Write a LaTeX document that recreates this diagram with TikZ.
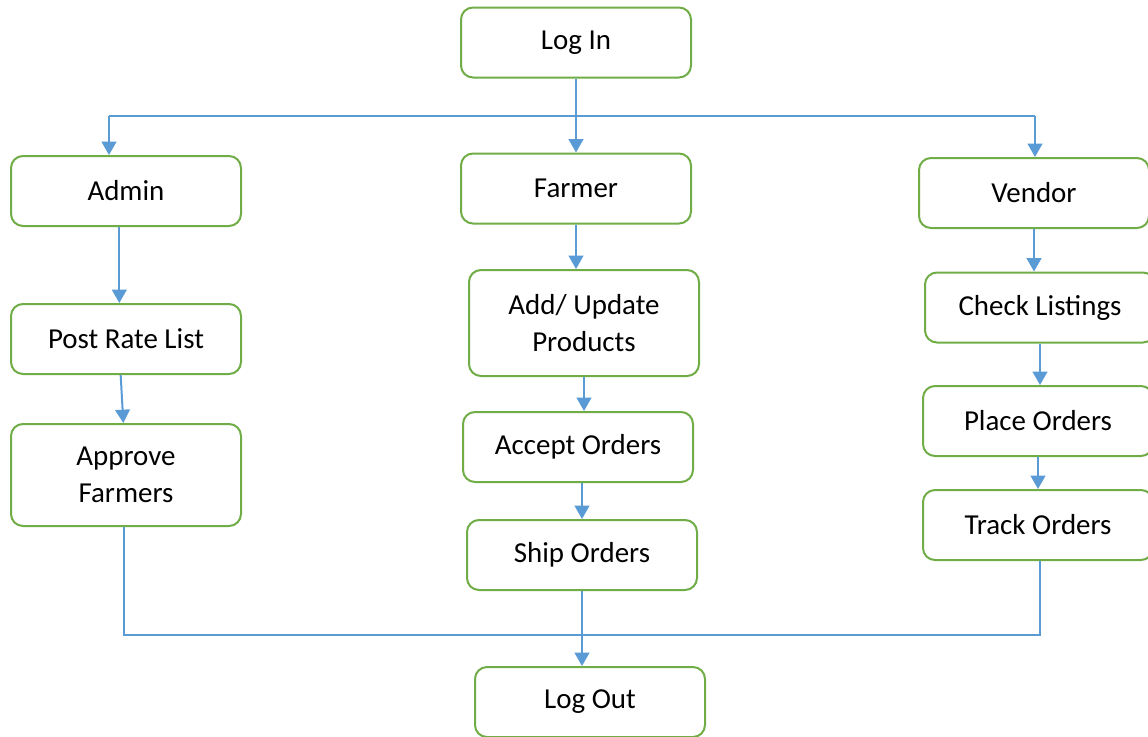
\documentclass[tikz,border=0pt]{standalone}
\usepackage{fontspec}
\setmainfont{Carlito}
\usetikzlibrary{arrows.meta}

\definecolor{boxgreen}{HTML}{70AD47}
\definecolor{lineblue}{HTML}{5B9BD5}

\begin{document}
\begin{tikzpicture}[x=0.75pt, y=-0.75pt,
    box/.style={draw=boxgreen, line width=1.5pt, rounded corners=9pt, fill=white,
      minimum width=172.5pt, minimum height=52.5pt, inner sep=0pt, align=center,
      font=\fontsize{21.7}{27.5}\selectfont},
    link/.style={draw=lineblue, line width=1.5pt},
    arr/.style={link, -{Triangle[width=11pt,length=10pt]}}]
  \useasboundingbox (0,0) rectangle (1148,736);
  \clip (0,0) rectangle (1148,736);

  % Top
  \node[box] (login) at (576,42.5) {Log In};

  % Roles
  \node[box] (admin) at (126,191) {Admin};
  \node[box] (farmer) at (576,188.5) {Farmer};
  \node[box] (vendor) at (1034,193) {Vendor};

  % Admin column
  \node[box] (postrate) at (126,339) {Post Rate List};
  \node[box, minimum height=76.5pt] (approve) at (126,475) {Approve\\Farmers};

  % Farmer column
  \node[box, minimum height=79.5pt] (addupdate) at (584,323) {Add/ Update\\Products};
  \node[box] (accept) at (578,447) {Accept Orders};
  \node[box] (ship) at (582,555) {Ship Orders};

  % Vendor column
  \node[box] (check) at (1040,307.5) {Check Listings};
  \node[box] (place) at (1038,421) {Place Orders};
  \node[box] (track) at (1038,525) {Track Orders};

  % Bottom
  \node[box] (logout) at (590,702) {Log Out};

  % Branch from log in
  \coordinate (busL) at (109,116);
  \coordinate (busR) at (1035,116);
  \draw[link] (busL) -- (busR);
  \draw[arr] (busL) -- (busL |- admin.north);
  \draw[arr] (login.south) -- (farmer.north);
  \draw[arr] (busR) -- (busR |- vendor.north);

  % Column arrows
  \draw[arr] ([xshift=-5pt]admin.south) -- ([xshift=-5pt]postrate.north);
  \draw[arr] ([xshift=-4pt]postrate.south) -- ([xshift=-2pt]approve.north);
  \draw[arr] (farmer.south) -- (farmer.south |- addupdate.north);
  \draw[arr] (addupdate.south) -- (addupdate.south |- accept.north);
  \draw[arr] (accept.south -| ship.north) -- (ship.north);
  \draw[arr] (vendor.south) -- (vendor.south |- check.north);
  \draw[arr] (check.south) -- (check.south |- place.north);
  \draw[arr] (place.south) -- (place.south |- track.north);

  % Join to log out
  \coordinate (botL) at (124,635);
  \coordinate (botR) at (1040,635);
  \draw[link] (approve.south -| botL) -- (botL) -- (botR) -- (track.south -| botR);
  \draw[arr] (ship.south) -- (ship.south |- logout.north);
\end{tikzpicture}
\end{document}
